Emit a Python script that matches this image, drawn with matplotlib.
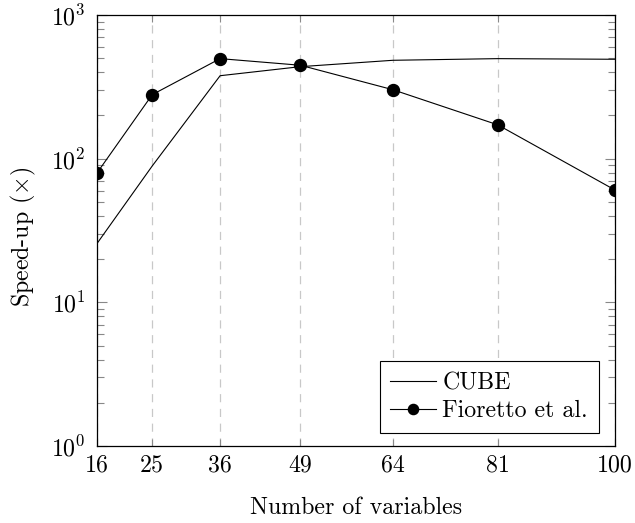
import matplotlib
matplotlib.use("Agg")
import matplotlib.pyplot as plt
from matplotlib.ticker import LogLocator, NullFormatter, FixedLocator

plt.rcParams["font.family"] = ["cmr10", "DejaVu Serif"]
plt.rcParams["mathtext.fontset"] = "cm"
plt.rcParams["axes.formatter.use_mathtext"] = True
plt.rcParams["font.size"] = 17.2

# Problem sizes (number of variables)
variables = [16, 25, 36, 49, 64, 81, 100]
# Speed-up over the sequential baseline
cube_speedup = [25.5, 89, 378, 437, 484, 497, 492]
fioretto_speedup = [79, 279, 497, 447, 302, 172, 60.5]
tick_labels = ["16", "25", "36", "49", "64", "81", "100"]

fig = plt.figure(figsize=(6.35, 5.23), dpi=100)
ax = fig.add_axes([0.1523, 0.1472, 0.9685 - 0.1523, 0.9713 - 0.1472])

ax.plot(variables, cube_speedup, color="black", lw=0.8, label="CUBE", zorder=3)
ax.plot(variables, fioretto_speedup, color="black", lw=0.8, marker="o",
        markersize=8.6, label="Fioretto et al.", zorder=4)

ax.set_yscale("log")
ax.set_xlim(16, 100)
ax.set_ylim(1, 1000)

ax.xaxis.set_major_locator(FixedLocator(variables))
ax.set_xticklabels(tick_labels)
ax.yaxis.set_major_locator(LogLocator(base=10, numticks=10))
ax.yaxis.set_minor_locator(LogLocator(base=10, subs=range(2, 10), numticks=10))
ax.yaxis.set_minor_formatter(NullFormatter())

ax.xaxis.grid(True, which="major", color="#c8c8c8", lw=0.9, linestyle=(0, (6.5, 5.3)))
ax.yaxis.grid(False)
ax.set_axisbelow(True)

ax.tick_params(axis="both", which="both", direction="in", top=True, right=True,
               color="#888888", width=0.8)
ax.tick_params(axis="x", which="major", length=5, pad=6)
ax.tick_params(axis="y", which="major", length=7.5, pad=8)
ax.tick_params(axis="y", which="minor", length=5)

for s in ax.spines.values():
    s.set_linewidth(0.9)
    s.set_color("black")

ax.set_xlabel("Number of variables")
ax.xaxis.set_label_coords(0.5, -0.1183)
ax.set_ylabel(r"Speed-up ($\times$)")
ax.yaxis.set_label_coords(-0.1127, 0.484)

leg = ax.legend(loc="lower right", bbox_to_anchor=(0.9686, 0.0302),
                borderaxespad=0, frameon=True, fancybox=False, framealpha=1,
                edgecolor="black", handlelength=1.9, handletextpad=0.28,
                markerscale=0.85, borderpad=0.45, labelspacing=0.25)
leg.get_frame().set_linewidth(0.8)

fig.savefig("out.png", dpi=100)
